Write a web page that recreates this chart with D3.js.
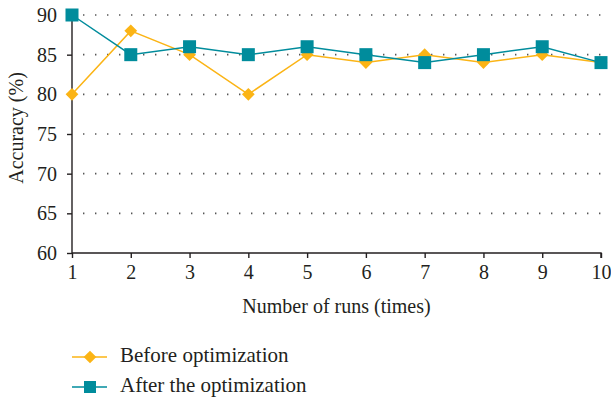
<!DOCTYPE html>
<html>
<head>
<meta charset="utf-8">
<script src="https://cdn.jsdelivr.net/npm/d3@7"></script>
<style>
  html, body { margin: 0; padding: 0; background: #fff; }
</style>
</head>
<body>
<svg id="chart" width="611" height="400"></svg>
<script>
const runs = [1, 2, 3, 4, 5, 6, 7, 8, 9, 10];
const beforeOpt = [80, 88, 85, 80, 85, 84, 85, 84, 85, 84];
const afterOpt = [90, 85, 86, 85, 86, 85, 84, 85, 86, 84];
const yTicks = [60, 65, 70, 75, 80, 85, 90];
const seriesNames = ["Before optimization", "After the optimization"];
const colors = ["#fbb415", "#008c9c"];

const FONT = "'Liberation Serif', 'Times New Roman', 'DejaVu Serif', serif";
const INK = "#231f20";

const svg = d3.select("#chart");
const plot = { left: 72, right: 601, top: 15, bottom: 253 };

const x = d3.scaleLinear().domain([1, 10]).range([plot.left, plot.right]);
const y = d3.scaleLinear().domain([60, 90]).range([plot.bottom, plot.top]);

// dotted grid lines
svg.append("g")
  .selectAll("line")
  .data(yTicks.filter(d => d > 60))
  .join("line")
  .attr("x1", plot.left + 11).attr("x2", plot.right)
  .attr("y1", d => y(d)).attr("y2", d => y(d))
  .attr("stroke", "#555")
  .attr("stroke-width", 1.6)
  .attr("stroke-dasharray", "1.4,10.6");

// axes
const yAxis = svg.append("g")
  .attr("transform", `translate(${plot.left},0)`)
  .call(d3.axisLeft(y).tickValues(yTicks).tickSize(5).tickPadding(10));
const xAxis = svg.append("g")
  .attr("transform", `translate(0,${plot.bottom})`)
  .call(d3.axisBottom(x).tickValues(runs).tickSize(5).tickPadding(7));
[yAxis, xAxis].forEach(g => {
  g.attr("font-family", FONT).attr("font-size", 20);
  g.select(".domain").attr("stroke", INK).attr("stroke-width", 1.4);
  g.selectAll(".tick line").attr("stroke", INK).attr("stroke-width", 1.4);
  g.selectAll(".tick text").attr("fill", INK);
});
yAxis.select(".domain").attr("d", `M0,${plot.top}V${plot.bottom}`);
xAxis.select(".domain").attr("d", `M${plot.left},0H${plot.right}V5`);

// axis titles
svg.append("text")
  .attr("x", (plot.left + plot.right) / 2).attr("y", 313)
  .attr("text-anchor", "middle")
  .attr("font-family", FONT).attr("font-size", 20).attr("fill", INK)
  .text("Number of runs (times)");
svg.append("text")
  .attr("transform", `translate(23,128) rotate(-90)`)
  .attr("text-anchor", "middle")
  .attr("font-family", FONT).attr("font-size", 20).attr("fill", INK)
  .text("Accuracy (%)");

const line = d3.line().x((d, i) => x(runs[i])).y(d => y(d));

// before optimization
svg.append("path").datum(beforeOpt)
  .attr("d", line).attr("fill", "none")
  .attr("stroke", colors[0]).attr("stroke-width", 1.5);
svg.append("g").selectAll("path")
  .data(beforeOpt)
  .join("path")
  .attr("transform", (d, i) => `translate(${x(runs[i])},${y(d)}) rotate(45)`)
  .attr("d", "M-4.5,-4.5H4.5V4.5H-4.5Z")
  .attr("fill", colors[0]);

// after optimization
svg.append("path").datum(afterOpt)
  .attr("d", line).attr("fill", "none")
  .attr("stroke", colors[1]).attr("stroke-width", 1.5);
svg.append("g").selectAll("rect")
  .data(afterOpt)
  .join("rect")
  .attr("x", (d, i) => x(runs[i]) - 6.5)
  .attr("y", d => y(d) - 6.5)
  .attr("width", 13).attr("height", 13)
  .attr("fill", colors[1]);

// legend
const legend = svg.append("g");
seriesNames.forEach((name, i) => {
  const ly = 357 + i * 30;
  const g = legend.append("g");
  g.append("line").attr("x1", 72).attr("x2", 107).attr("y1", ly).attr("y2", ly)
    .attr("stroke", colors[i]).attr("stroke-width", 1.5);
  if (i === 0) {
    g.append("path")
      .attr("transform", `translate(90,${ly}) rotate(45)`)
      .attr("d", "M-4.5,-4.5H4.5V4.5H-4.5Z")
      .attr("fill", colors[i]);
  } else {
    g.append("rect").attr("x", 84).attr("y", ly - 6).attr("width", 12).attr("height", 12)
      .attr("fill", colors[i]);
  }
  g.append("text").attr("x", 120).attr("y", ly + 5)
    .attr("font-family", FONT).attr("font-size", 21).attr("fill", INK)
    .text(name);
});
</script>
</body>
</html>
